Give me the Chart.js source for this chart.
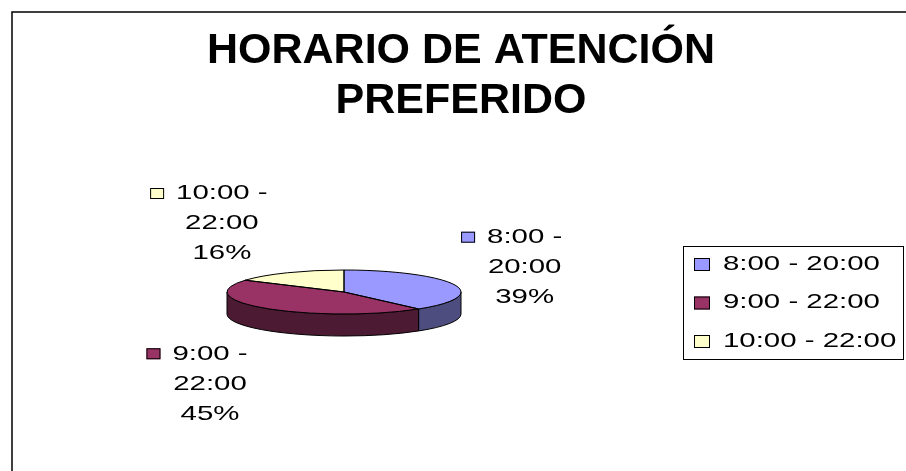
<!DOCTYPE html>
<html>
<head>
<meta charset="utf-8">
<script src="https://cdn.jsdelivr.net/npm/chart.js@4.4.1/dist/chart.umd.min.js"></script>
<style>
  body { margin: 0; background: #fff; }
  #wrap { width: 906px; height: 471px; }
</style>
</head>
<body>
<div id="wrap"><canvas id="pieChart"></canvas></div>
<script>
const categories = ["8:00 - 20:00", "9:00 - 22:00", "10:00 - 22:00"];
const shares = [39, 45, 16];
const titleLines = ["HORARIO DE ATENCIÓN", "PREFERIDO"];

const topColors = ["#9999FF", "#993366", "#FFFFCC"];
const sideColors = ["#4D4D80", "#4D1A33", "#808066"];

const FONT = "'Liberation Sans', Arial, sans-serif";
// the pie is shown tilted: an ellipse with a wall under its front half
const pie = { cx: 344, cy: 292, rx: 117, ry: 22, depth: 22 };
const stretch = 1.4; // label and legend text in the picture is drawn wide
// small hand nudges of each data label away from its computed spot
const labelNudge = [[-5, 4], [-7, 6], [-8, 6]];

function wideText(ctx, text, x, y) {
  ctx.save();
  ctx.translate(x, y);
  ctx.scale(stretch, 1);
  ctx.fillText(text, 0, 0);
  ctx.restore();
}

function wideWidth(ctx, text) {
  return ctx.measureText(text).width * stretch;
}

function keyBox(ctx, x, y, w, h, color) {
  ctx.fillStyle = color;
  ctx.fillRect(x, y, w, h);
  ctx.strokeRect(x + 0.5, y + 0.5, w - 1, h - 1);
}

const tiltedPie = {
  id: "tiltedPie",
  beforeDraw(chart) {
    const ctx = chart.ctx;
    ctx.save();
    ctx.strokeStyle = "#000";
    ctx.lineWidth = 1.5;
    ctx.strokeRect(12, 12, chart.width, chart.height);
    ctx.restore();
  },
  beforeDatasetsDraw(chart) {
    const ctx = chart.ctx;
    const arcs = chart.getDatasetMeta(0).data;
    ctx.save();
    ctx.lineWidth = 1;
    ctx.strokeStyle = "#000";
    // walls of the slices that face the viewer
    arcs.forEach((arc, i) => {
      for (let k = -1; k <= 1; k++) {
        const lo = Math.max(arc.startAngle, 2 * Math.PI * k);
        const hi = Math.min(arc.endAngle, 2 * Math.PI * k + Math.PI);
        if (hi <= lo) continue;
        ctx.beginPath();
        ctx.ellipse(pie.cx, pie.cy, pie.rx, pie.ry, 0, lo, hi);
        ctx.ellipse(pie.cx, pie.cy + pie.depth, pie.rx, pie.ry, 0, hi, lo, true);
        ctx.closePath();
        ctx.fillStyle = sideColors[i];
        ctx.fill();
        ctx.stroke();
      }
    });
    // squash the flat pie the library draws onto the ellipse
    const a = arcs[0];
    ctx.translate(pie.cx, pie.cy);
    ctx.scale(pie.rx / a.outerRadius, pie.ry / a.outerRadius);
    ctx.translate(-a.x, -a.y);
  },
  afterDatasetsDraw(chart) {
    const ctx = chart.ctx;
    ctx.restore();
    const arcs = chart.getDatasetMeta(0).data;
    const total = shares.reduce((s, v) => s + v, 0);

    ctx.save();
    ctx.lineWidth = 1;
    ctx.strokeStyle = "#000";
    arcs.forEach((arc) => {
      ctx.beginPath();
      ctx.moveTo(pie.cx, pie.cy);
      ctx.ellipse(pie.cx, pie.cy, pie.rx, pie.ry, 0, arc.startAngle, arc.endAngle);
      ctx.closePath();
      ctx.stroke();
    });

    // data labels: key, category on two lines, percentage
    ctx.font = "21px " + FONT;
    ctx.textBaseline = "middle";
    ctx.textAlign = "left";
    const lineGap = 30, keyW = 14, keyH = 11, keyGap = 12;
    arcs.forEach((arc, i) => {
      const m = (arc.startAngle + arc.endAngle) / 2;
      const c = Math.cos(m), s = Math.sin(m);
      const ax = pie.cx + pie.rx * c;
      const ay = pie.cy + pie.ry * s + (s > 0 ? pie.depth : 0);
      const parts = categories[i].split(" - ");
      const lines = [parts[0] + " -", parts[1], Math.round(shares[i] / total * 100) + "%"];
      const textW = Math.max(...lines.map((t) => wideWidth(ctx, t)));
      const w = keyW + keyGap + textW;
      const h = lineGap * 3;
      const bx = ax + Math.sign(c) * (w / 2 + 12) + labelNudge[i][0];
      const by = ay + s * (h / 2 + 18) + labelNudge[i][1];
      const left = bx - w / 2;
      const textMid = left + keyW + keyGap + textW / 2;
      keyBox(ctx, left, by - lineGap - keyH / 2, keyW, keyH, topColors[i]);
      ctx.fillStyle = "#000";
      lines.forEach((t, j) => {
        wideText(ctx, t, textMid - wideWidth(ctx, t) / 2, by + (j - 1) * lineGap);
      });
    });

    // legend
    ctx.fillStyle = "#fff";
    ctx.fillRect(683, 246, 220, 113);
    ctx.strokeRect(683.5, 246.5, 220, 113);
    categories.forEach((name, j) => {
      const y = 264 + j * 38.5;
      keyBox(ctx, 694, y - 6, 16, 13, topColors[j]);
      ctx.fillStyle = "#000";
      wideText(ctx, name, 723, y);
    });
    ctx.restore();
  }
};

new Chart(document.getElementById("pieChart"), {
  type: "pie",
  data: {
    labels: categories,
    datasets: [{
      data: shares,
      backgroundColor: topColors,
      borderWidth: 0,
      hoverOffset: 0,
    }],
  },
  options: {
    responsive: true,
    maintainAspectRatio: false,
    animation: false,
    events: [],
    layout: { padding: { left: 16, right: 0, top: 0, bottom: 10 } },
    plugins: {
      legend: { display: false },
      tooltip: { enabled: false },
      title: {
        display: true,
        text: titleLines,
        color: "#000",
        font: { family: FONT, size: 43, weight: "bold", lineHeight: 50 / 43 },
        padding: { top: 26, bottom: 10 },
      },
    },
  },
  plugins: [tiltedPie],
});
</script>
</body>
</html>
